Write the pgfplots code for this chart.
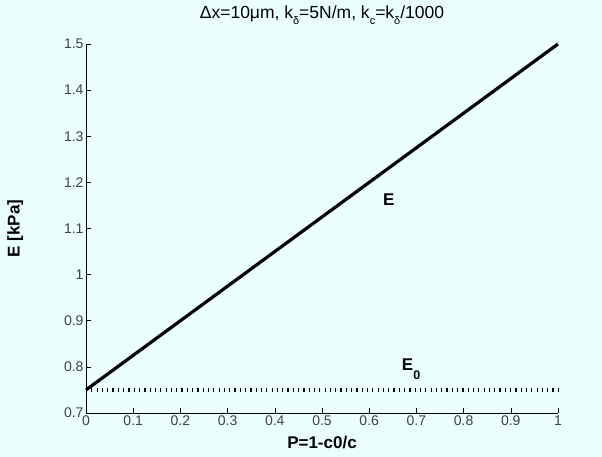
\documentclass[border=0pt]{standalone}
\usepackage{fontspec}
\setmainfont{Liberation Sans}
\usepackage{pgfplots}
\pgfplotsset{compat=1.18}
\definecolor{bgcyan}{RGB}{236,255,255}
\newcommand\sub[1]{\raisebox{-0.55ex}{\fontsize{11}{12}\selectfont #1}}

\begin{document}
\begin{tikzpicture}
\fill[bgcyan] (-86pt,-44pt) rectangle (516pt,413pt);
\begin{axis}[
  scale only axis,
  width=472pt, height=369pt,
  xmin=0, xmax=1, ymin=0.7, ymax=1.5,
  xtick={0,0.1,...,1.0}, ytick={0.7,0.8,...,1.5},
  axis x line=bottom, axis y line=left,
  axis line style={-, black, semithick},
  tick align=inside, major tick length=5pt,
  tick style={black, semithick},
  tick label style={font=\fontsize{14}{16}\selectfont, black!75},
  /pgf/number format/assume math mode=true,
  xticklabel style={yshift=1pt}, yticklabel style={xshift=1pt},
  xlabel={\textbf{P=1-c0/c}}, ylabel={\textbf{E [kPa]}},
  label style={font=\fontsize{17}{19}\selectfont},
  xlabel style={at={(axis description cs:0.5,-0.081)}, anchor=center},
  ylabel style={at={(axis description cs:-0.150,0.5)}, anchor=center},
  title={Δx=10μm, k\sub{δ}=5N/m, k\sub{c}=k\sub{δ}/1000},
  title style={font=\fontsize{17.5}{19}\selectfont, at={(axis description cs:0.5,1.0515)}, anchor=base},
  axis background/.style={fill=bgcyan},
  clip=false,
]
\addplot[black, line width=3.2pt] coordinates {(0,0.75) (1,1.5)};
\addplot[black, line width=4pt, dash pattern=on 1.2pt off 4.1pt] coordinates {(0,0.75) (1,0.75)};
\node[font=\bfseries\fontsize{17}{19}\selectfont, anchor=base west, inner sep=0pt] at (axis cs:0.629,1.149) {E};
\node[font=\bfseries\fontsize{17}{19}\selectfont, anchor=base west, inner sep=0pt] at (axis cs:0.669,0.793) {E\raisebox{-9pt}{\fontsize{12.5}{13}\selectfont 0}};
\end{axis}
\end{tikzpicture}
\end{document}
